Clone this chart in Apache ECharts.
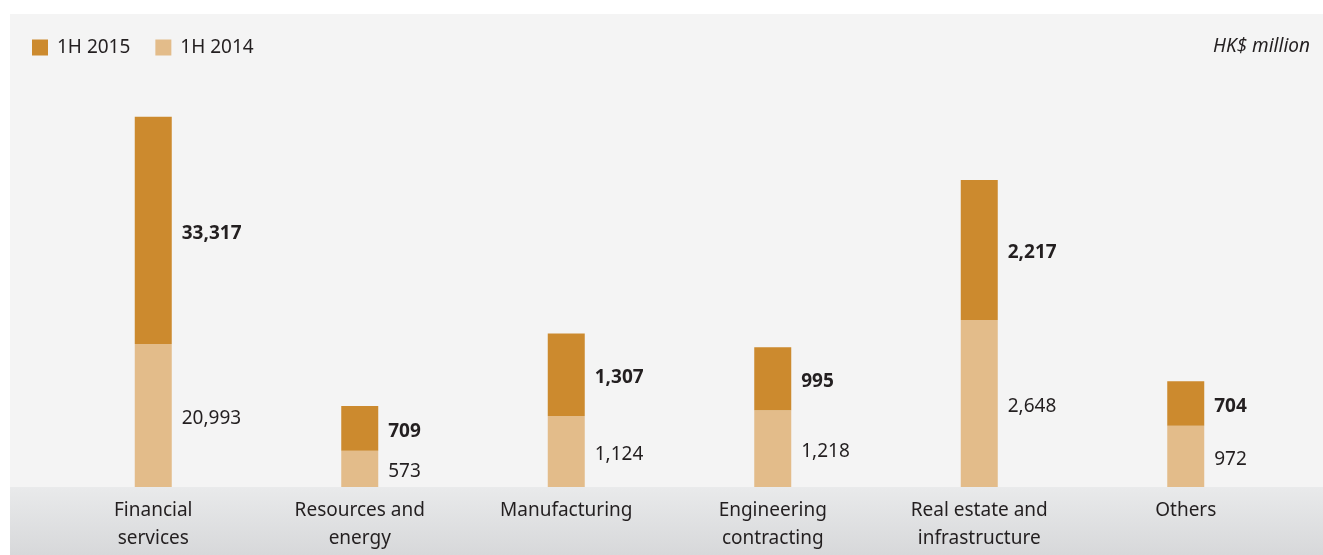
<!DOCTYPE html>
<html>
<head>
<meta charset="utf-8">
<script src="https://cdn.jsdelivr.net/npm/echarts@6/dist/echarts.min.js"></script>
<style>
html,body{margin:0;padding:0;background:#ffffff;}
#chart{width:1323px;height:555px;}
</style>
</head>
<body>
<div id="chart"></div>
<script>
// ---- data ----
const categories = ['Financial\nservices', 'Resources and\nenergy', 'Manufacturing', 'Engineering\ncontracting', 'Real estate and\ninfrastructure', 'Others'];
const values2014 = [20993, 573, 1124, 1218, 2648, 972];
const values2015 = [33317, 709, 1307, 995, 2217, 704];
// Financial services is drawn on its own (compressed) scale, as in the original
const ownScale = [true, false, false, false, false, false];
const seriesNames = ['1H 2015', '1H 2014'];
const unitLabel = 'HK$ million';

const C2015 = '#cc8a2e';
const C2014 = '#e3bc8a';
const TXT = '#231f20';
const FONT = 'Noto Sans';

const pick = (arr, own) => arr.map((v, i) => (ownScale[i] === own ? v : '-'));
const fmt = v => v.toLocaleString('en-US');

function makeSeries(name, data, color, axis, stack, bold) {
  return {
    name: name, type: 'bar', yAxisIndex: axis, stack: stack,
    data: data, barWidth: 37, barGap: '-100%',
    itemStyle: { color: color },
    label: {
      show: true, position: 'right', distance: 10, offset: [0, 3],
      color: TXT, fontFamily: FONT, fontSize: 19,
      fontWeight: bold ? 'bold' : 'normal',
      formatter: p => fmt(p.value)
    },
    emphasis: { disabled: true }
  };
}

const chart = echarts.init(document.getElementById('chart'), null, { renderer: 'canvas' });
chart.setOption({
  animation: false,
  backgroundColor: '#ffffff',
  graphic: [
    { type: 'rect', z: -10, shape: { x: 10, y: 14, width: 1313, height: 473 }, style: { fill: '#f4f4f4' } },
    { type: 'rect', z: -10, shape: { x: 10, y: 487, width: 1313, height: 68 },
      style: { fill: new echarts.graphic.LinearGradient(0, 0, 0, 1, [
        { offset: 0, color: '#e9eaeb' }, { offset: 1, color: '#d7d8da' }]) } },
    { type: 'text', z: 10, right: 13, top: 37,
      style: { text: unitLabel, fill: TXT, font: 'italic 19px "' + FONT + '"' } }
  ],
  legend: {
    left: 27, top: 33, itemWidth: 16, itemHeight: 16, itemGap: 25, icon: 'rect',
    data: seriesNames,
    textStyle: { color: TXT, fontFamily: FONT, fontSize: 19, padding: [0, 0, 0, 4] }
  },
  grid: { left: 50, right: 34, top: 80, bottom: 68 },
  xAxis: {
    type: 'category', data: categories,
    axisLine: { show: false }, axisTick: { show: false },
    axisLabel: { color: TXT, fontFamily: FONT, fontSize: 19, lineHeight: 28, margin: 10, interval: 0 }
  },
  yAxis: [
    { type: 'value', min: 0, max: 6450, show: false, splitLine: { show: false } },
    { type: 'value', min: 0, max: 59700, show: false, splitLine: { show: false } }
  ],
  series: [
    makeSeries('1H 2014', pick(values2014, false), C2014, 0, 'main', false),
    makeSeries('1H 2015', pick(values2015, false), C2015, 0, 'main', true),
    makeSeries('1H 2014', pick(values2014, true), C2014, 1, 'own', false),
    makeSeries('1H 2015', pick(values2015, true), C2015, 1, 'own', true)
  ]
});
</script>
</body>
</html>
